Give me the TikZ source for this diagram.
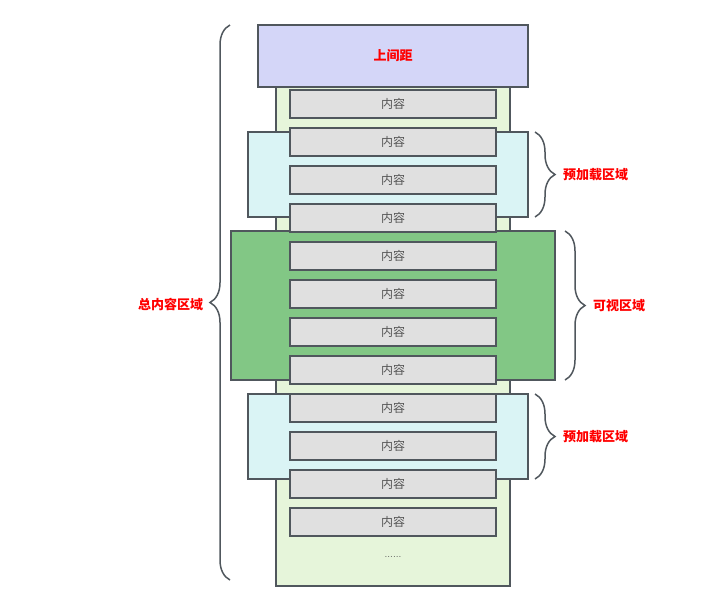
\documentclass[tikz,border=0pt]{standalone}
\usepackage{fontspec}
\newfontfamily\cjk{Noto Sans CJK SC}
\usepackage{tikz}
\usetikzlibrary{positioning}
\usetikzlibrary{decorations.pathreplacing}
\definecolor{edgegray}{HTML}{50575D}
\definecolor{itemfill}{HTML}{E0E0E0}
\definecolor{itemtext}{HTML}{555555}
\definecolor{listfill}{HTML}{E6F5DA}
\definecolor{topfill}{HTML}{D4D6F8}
\definecolor{prefill}{HTML}{DAF4F5}
\definecolor{viewfill}{HTML}{82C785}
\tikzset{every picture/.style={line width=2pt}}
\tikzset{
  area/.style={draw=edgegray, rectangle, inner sep=0pt},
  item/.style={area, fill=itemfill, minimum width=206pt, minimum height=28pt,
    font=\cjk\fontsize{12}{12}\selectfont, text=itemtext,
    text depth=2pt, text height=10pt},
  tag/.style={font=\cjk\bfseries\fontsize{13}{13}\selectfont, text=red, inner sep=0pt},
  curly/.style={draw=edgegray, line width=1.5pt, decorate,
    decoration={brace, amplitude=20pt}}
}
\begin{document}
\begin{tikzpicture}[x=1pt, y=-1pt]
\useasboundingbox (0,0) rectangle (713,611);
% regions
\node[area, fill=listfill, minimum width=234pt, minimum height=561pt] at (393,305.5) (list) {};
\node[area, fill=topfill, minimum width=270pt, minimum height=62pt] at (393,56) (top) {};
\node[tag] at (top) {上间距};
\node[area, fill=prefill, minimum width=280pt, minimum height=85pt] at (388,174.5) (preA) {};
\node[area, fill=prefill, minimum width=280pt, minimum height=85pt] at (388,436.5) (preB) {};
\node[area, fill=viewfill, minimum width=324pt, minimum height=149pt] at (393,305.5) (view) {};
% list items
\node[item] at (393,104) (i1) {内容};
\node[item] at (393,142) (i2) {内容};
\node[item] at (393,180) (i3) {内容};
\node[item] at (393,218) (i4) {内容};
\node[item] at (393,256) (i5) {内容};
\node[item] at (393,294) (i6) {内容};
\node[item] at (393,332) (i7) {内容};
\node[item] at (393,370) (i8) {内容};
\node[item] at (393,408) (i9) {内容};
\node[item] at (393,446) (i10) {内容};
\node[item] at (393,484) (i11) {内容};
\node[item] at (393,522) (i12) {内容};
\node[font=\fontsize{10}{10}\selectfont, text=itemtext] at (393,557) (more) {......};
% braces
\coordinate (allT) at (230,25);
\coordinate (allB) at (230,580);
\coordinate (preAT) at (535,132);
\coordinate (preAB) at (535,217);
\coordinate (viewT) at (565,231);
\coordinate (viewB) at (565,380);
\coordinate (preBT) at (535,394);
\coordinate (preBB) at (535,479);
\draw[curly] (allB) -- (allT);
\draw[curly] (preAT) -- (preAB);
\draw[curly] (viewT) -- (viewB);
\draw[curly] (preBT) -- (preBB);
\node[tag, anchor=east] at (204,304) (allL) {总内容区域};
\node[tag, anchor=west] at (562,175) (preAL) {预加载区域};
\node[tag, anchor=west] at (592,306) (viewL) {可视区域};
\node[tag, anchor=west] at (562,437) (preBL) {预加载区域};
\end{tikzpicture}
\end{document}
